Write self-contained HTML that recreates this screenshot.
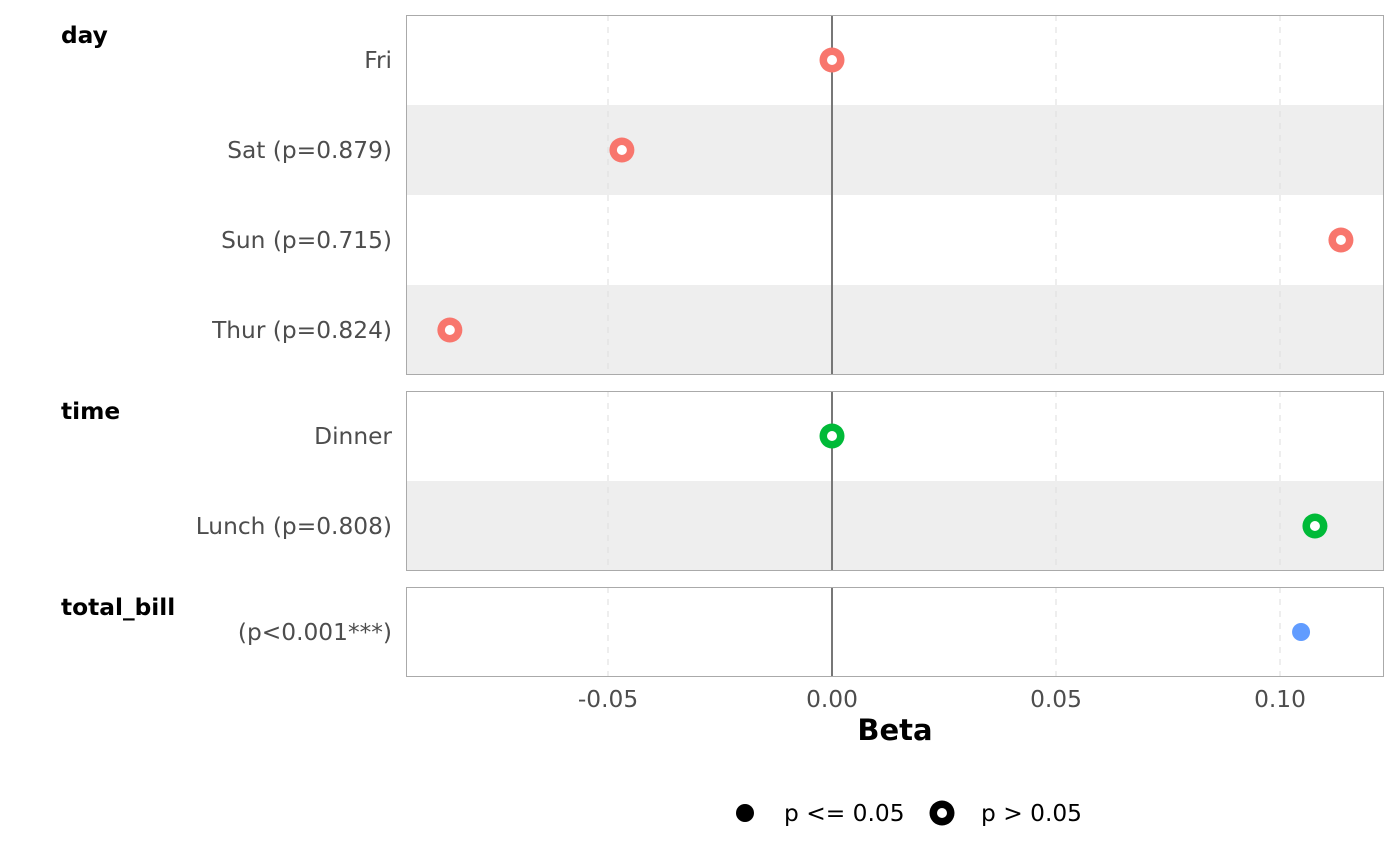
<!DOCTYPE html>
<html><head><meta charset="utf-8">
<style>
body{margin:0;background:#fff;}
svg{display:block;font-family:"DejaVu Sans","Liberation Sans",sans-serif;}
</style></head>
<body>
<svg id="chart" width="1400" height="865">
<g id="panels"></g>
<text x="895" y="740" text-anchor="middle" font-size="29" font-weight="bold" fill="#000">Beta</text>
<g>
<circle cx="745" cy="813" r="9" fill="#000"></circle>
<text x="784" y="821" font-size="23.3" fill="#000">p &lt;= 0.05</text>
<circle cx="942" cy="813" r="12.5" fill="#000"></circle>
<circle cx="942" cy="813" r="5" fill="#fff"></circle>
<text x="981" y="821" font-size="23.3" fill="#000">p &gt; 0.05</text>
</g>
</svg>
<script>
const groups = ["day","time","total_bill"];
const groupColors = ["#F8766D","#00BA38","#619CFF"];
const rowLabels = [["Fri","Sat (p=0.879)","Sun (p=0.715)","Thur (p=0.824)"],["Dinner","Lunch (p=0.808)"],["(p<0.001***)"]];
const rowValues = [[0,-0.0469,0.1136,-0.0853],[0,0.1078],[0.1047]];
const rowSignificant = [[false,false,false,false],[false,false],[true]];
const xTicks = [-0.05,0,0.05,0.10];
const xTickLabels = ["-0.05","0.00","0.05","0.10"];

const NS="http://www.w3.org/2000/svg";
const g=document.getElementById('panels');
const X0=406,X1=1384;
const x=v=>832+v*4480;
const ROW=90, GAP=16;
function mk(t,a,p){const e=document.createElementNS(NS,t);for(const k in a)e.setAttribute(k,a[k]);(p||g).appendChild(e);return e;}
let y=15;
groups.forEach((grp,gi)=>{
  const n=rowLabels[gi].length, h=n*ROW;
  const pg=mk('g',{});
  
  
  rowLabels[gi].forEach((lab,ri)=>{
    if(ri%2===1){const r=mk('rect',{x:X0,y:y+ri*ROW,width:X1-X0,height:ROW,fill:'#EEEEEE'},pg);
      }
  });
  xTicks.forEach(t=>{ if(t!==0){const l=mk('line',{x1:x(t),x2:x(t),y1:y,y2:y+h,stroke:'#DDDDDD','stroke-dasharray':'6,6','stroke-width':1},pg);
    }});
  const z=mk('line',{x1:x(0),x2:x(0),y1:y,y2:y+h,stroke:'#777','stroke-width':2},pg);
  
  const b=mk('rect',{x:X0+0.5,y:y+0.5,width:X1-X0-1,height:h-1,fill:'none',stroke:'#AAAAAA','stroke-width':1},pg);
  
  const tt=mk('text',{x:61,y:y+28,'font-size':23.3,'font-weight':'bold',fill:'#000'},pg);tt.textContent=grp;
  
  rowLabels[gi].forEach((lab,ri)=>{
    const cy=y+ri*ROW+45;
    const t=mk('text',{x:392,y:cy+8,'text-anchor':'end','font-size':23.3,fill:'#4D4D4D'},pg);t.textContent=lab;
    
    const cx=x(rowValues[gi][ri]);
    if(rowSignificant[gi][ri]){
      const c=mk('circle',{cx:cx,cy:cy,r:9,fill:groupColors[gi]},pg);
      
    } else {
      const c=mk('circle',{cx:cx,cy:cy,r:12.5,fill:groupColors[gi]},pg);
      
      mk('circle',{cx:cx,cy:cy,r:5,fill:'#fff'},pg);
    }
  });
  y+=h+GAP;
});
xTicks.forEach((t,i)=>{
  const e=mk('text',{x:x(t),y:707,'text-anchor':'middle','font-size':23.3,fill:'#4D4D4D'});
  e.textContent=xTickLabels[i];
  
  
});
</script>
</body></html>
